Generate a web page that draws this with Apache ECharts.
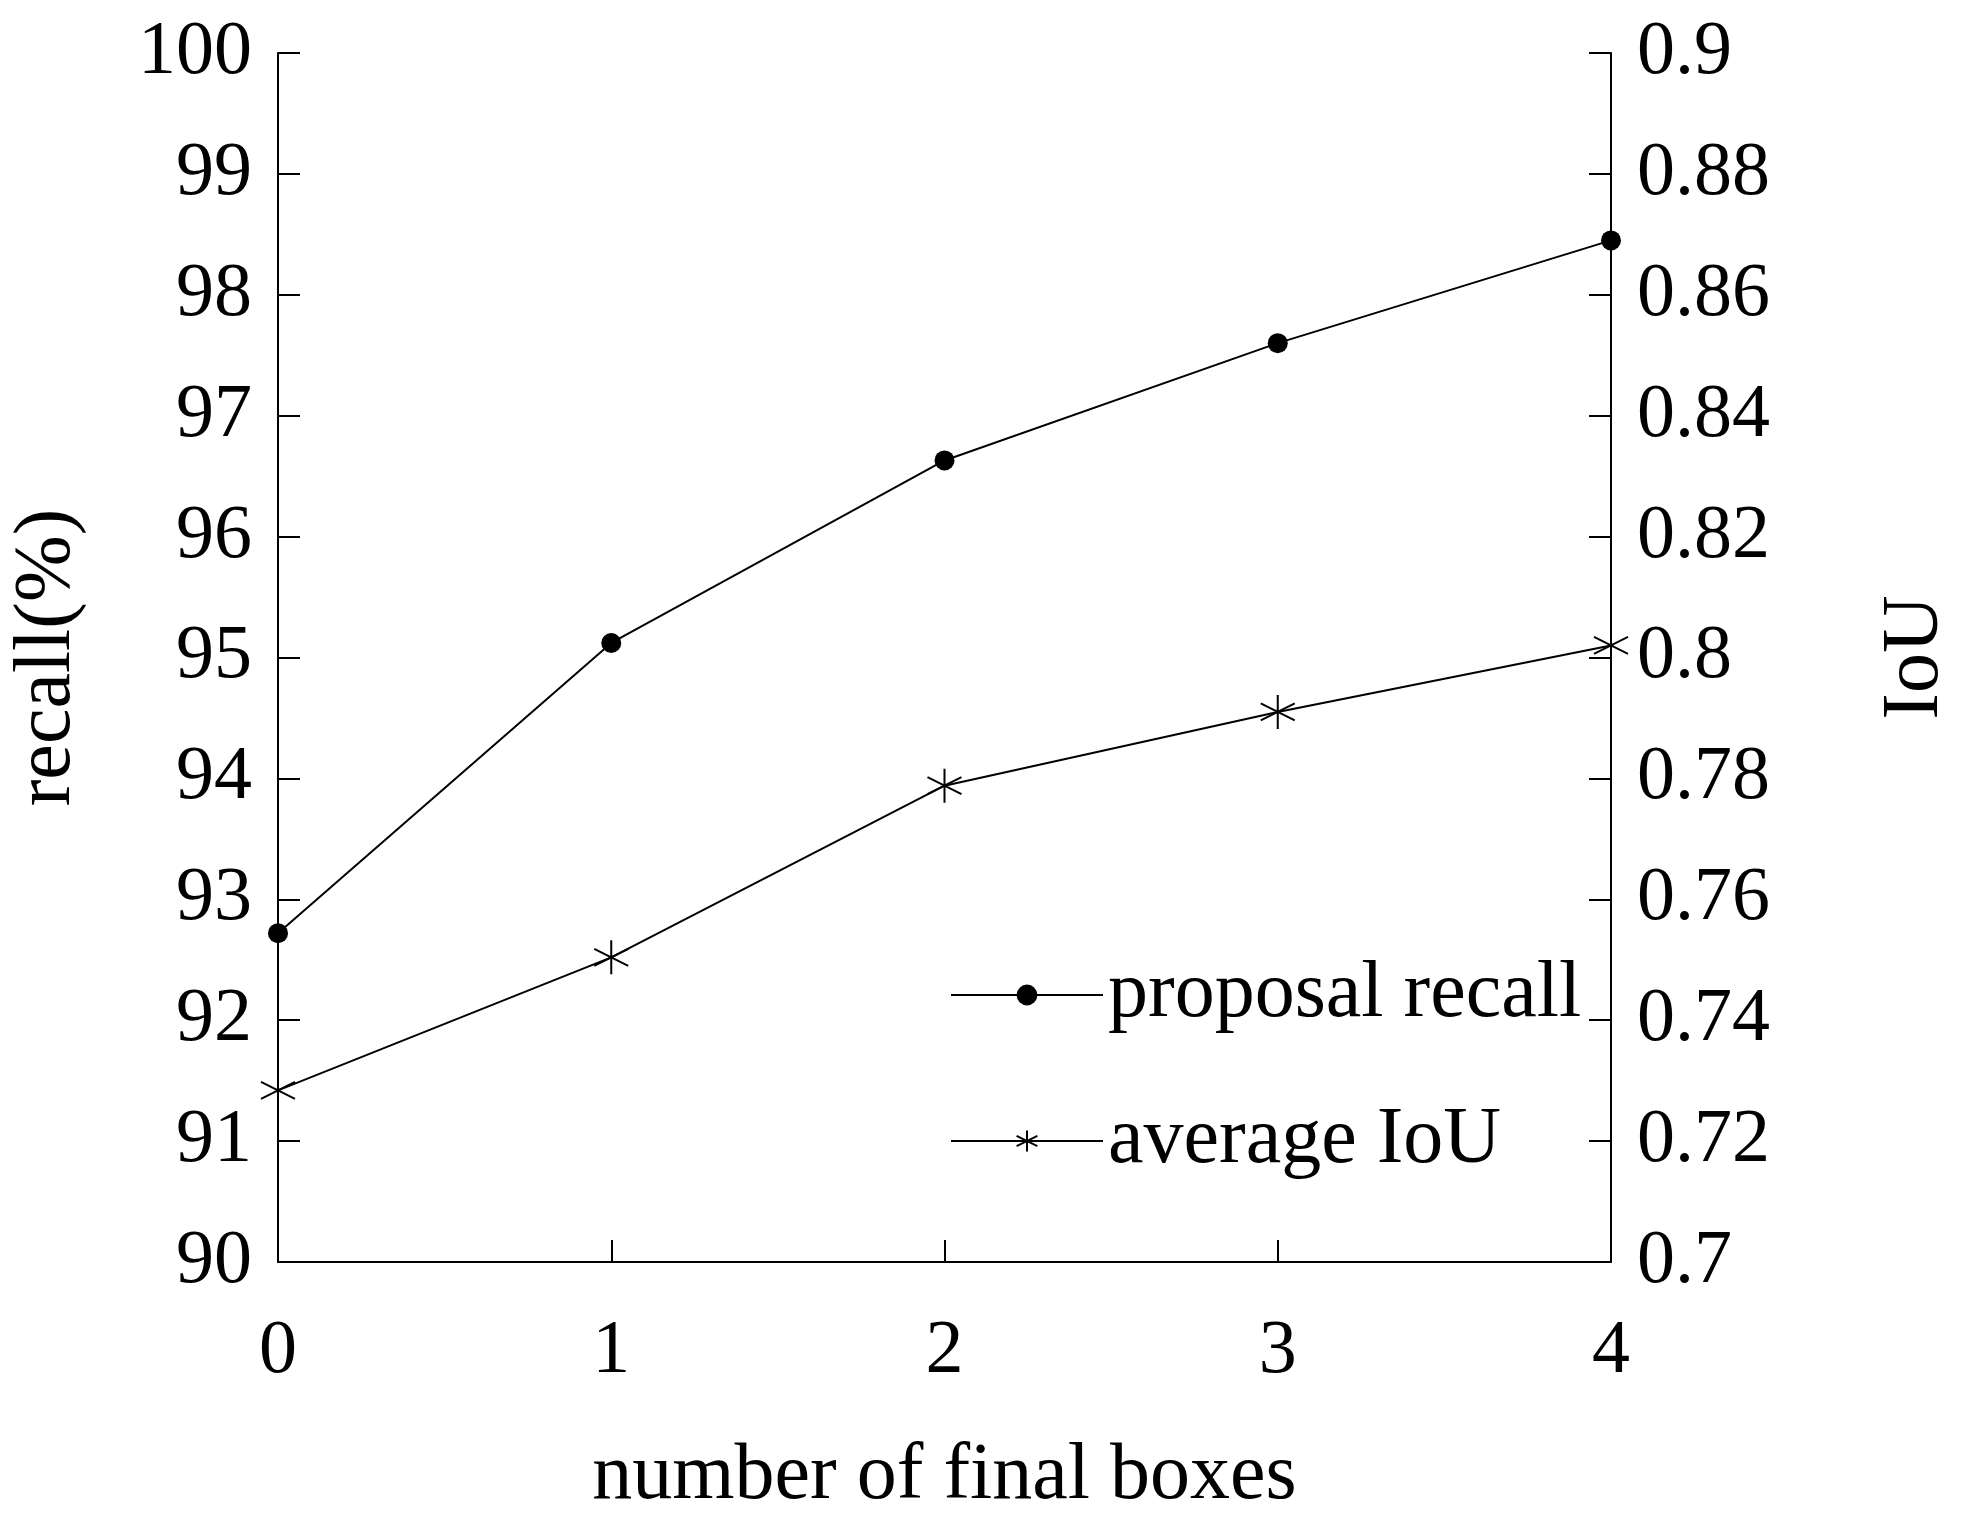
<!DOCTYPE html>
<html>
<head>
<meta charset="utf-8">
<script src="https://cdn.jsdelivr.net/npm/echarts@6/dist/echarts.min.js"></script>
<style>html,body{margin:0;background:#fff}#chart{width:1964px;height:1522px}</style>
</head>
<body>
<div id="chart"></div>
<script>
// number of final boxes
let boxes = ["0", "1", "2", "3", "4"];
let proposal_recall = [92.72, 95.12, 96.63, 97.6, 98.45];
let average_iou = [0.7284, 0.7504, 0.7788, 0.7910, 0.8020];

let font = "Liberation Serif";
let star = "path://M0,-10L0,10M-8.66,-5L8.66,5M-8.66,5L8.66,-5";

let chart = echarts.init(document.getElementById("chart"));

function axis_common(pos) {
    return {
        type: "value",
        position: pos,
        axisLine: {show: true, lineStyle: {color: "#000", width: 2}},
        axisTick: {show: true, inside: true, length: 22, lineStyle: {color: "#000", width: 2}},
        splitLine: {show: false},
        axisLabel: {color: "#000", fontFamily: font, fontSize: 76, margin: 26},
        nameTextStyle: {color: "#000", fontFamily: font, fontSize: 80},
        nameLocation: "middle"
    };
}

let y_left = Object.assign(axis_common("left"), {
    min: 90, max: 100, interval: 1, name: "recall(%)", nameGap: 190
});
let y_right = Object.assign(axis_common("right"), {
    min: 0.7, max: 0.9, interval: 0.02, name: "IoU", nameGap: 265,
    nameRotate: 90
});
y_right.axisLabel.formatter = function (v) { return String(+v.toFixed(2)); };

chart.setOption({
    animation: false,
    grid: {left: 273, right: 336, top: 53, bottom: 241},
    legend: {
        orient: "vertical",
        left: 945, top: 950,
        itemWidth: 152, itemHeight: 26, itemGap: 66,
        textStyle: {fontFamily: font, fontSize: 80, color: "#000"},
        data: ["proposal recall", "average IoU"]
    },
    xAxis: {
        type: "category",
        data: boxes,
        boundaryGap: false,
        name: "number of final boxes",
        nameLocation: "middle",
        nameGap: 175,
        nameTextStyle: {color: "#000", fontFamily: font, fontSize: 80},
        axisLine: {lineStyle: {color: "#000", width: 2}},
        axisTick: {inside: true, length: 22, lineStyle: {color: "#000", width: 2}},
        axisLabel: {color: "#000", fontFamily: font, fontSize: 76, margin: 52}
    },
    yAxis: [y_left, y_right],
    series: [
        {
            name: "proposal recall", type: "line", yAxisIndex: 0,
            data: proposal_recall,
            symbol: "circle", symbolSize: 20,
            lineStyle: {color: "#000", width: 2},
            itemStyle: {color: "#000"}
        },
        {
            name: "average IoU", type: "line", yAxisIndex: 1,
            data: average_iou,
            symbol: star, symbolSize: 34,
            lineStyle: {color: "#000", width: 2},
            itemStyle: {color: "none", borderColor: "#000", borderWidth: 2}
        }
    ]
});
</script>
</body>
</html>
